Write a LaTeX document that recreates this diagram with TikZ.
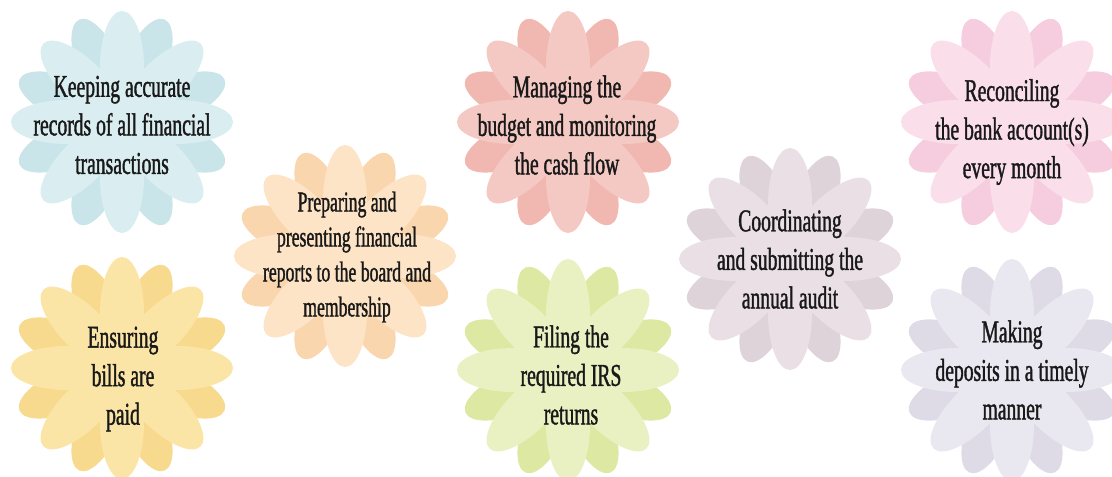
\documentclass[tikz,border=0pt]{standalone}
\usepackage{fontspec}
\setmainfont{Liberation Serif}[FakeStretch=0.62, FakeBold=1.2]

\definecolor{recFront}{HTML}{DAEDF0}
\definecolor{recBack}{HTML}{CAE5EA}
\definecolor{billFront}{HTML}{FBE5A6}
\definecolor{billBack}{HTML}{F8DA8F}
\definecolor{repFront}{HTML}{FDE4C6}
\definecolor{repBack}{HTML}{FAD6AE}
\definecolor{budFront}{HTML}{F5C9C3}
\definecolor{budBack}{HTML}{F0B8B1}
\definecolor{irsFront}{HTML}{E9F1C2}
\definecolor{irsBack}{HTML}{DDE8A3}
\definecolor{audFront}{HTML}{E9DFE5}
\definecolor{audBack}{HTML}{DFD3DA}
\definecolor{bankFront}{HTML}{FADFEA}
\definecolor{bankBack}{HTML}{F6CDDE}
\definecolor{depFront}{HTML}{E9E7F0}
\definecolor{depBack}{HTML}{DEDBE7}

\begin{document}
\begin{tikzpicture}[x=0.025cm, y=-0.025cm]
\tikzstyle{duty} = [align=center, text=black!90, inner sep=0pt,
                    font=\fontsize{22.5}{27.4}\selectfont]
\tikzstyle{longduty} = [duty, font=\fontsize{20.3}{24.9}\selectfont]

\useasboundingbox (0,0) rectangle (1112,477);

% flowers: back petals first, then the front ones
\foreach \cx/\cy/\back/\front in {122/122/recBack/recFront,
                                  122/368/billBack/billFront,
                                  345/256/repBack/repFront,
                                  568/122/budBack/budFront,
                                  568/370/irsBack/irsFront,
                                  790/259/audBack/audFront,
                                  1012/122/bankBack/bankFront,
                                  1012/370/depBack/depFront}
{
  \begin{scope}[shift={(\cx,\cy)}]
    \foreach \a in {22.5,67.5,...,337.5}
      \fill[\back, rotate=\a] (55,0) ellipse [x radius=56, y radius=22];
    \foreach \a in {0,45,...,315}
      \fill[\front, rotate=\a] (55,0) ellipse [x radius=56, y radius=22];
  \end{scope}
}

\node (records) [duty] at (122,125) {Keeping accurate\\records of all financial\\transactions};
\node (bills) [duty] at (123,379) {Ensuring\\bills are\\paid};
\node (reports) [longduty] at (347,257) {Preparing and\\presenting financial\\reports to the board and\\membership};
\node (budget) [duty] at (567,125) {Managing the\\budget and monitoring\\the cash flow};
\node (irs) [duty] at (571,375) {Filing the\\required IRS\\returns};
\node (audit) [duty] at (790,259) {Coordinating\\and submitting the\\annual audit};
\node (bank) [duty] at (1012,132) {Reconciling\\the bank account(s)\\every month};
\node (deposits) [duty] at (1012,370) {Making\\deposits in a timely\\manner};
\end{tikzpicture}
\end{document}
